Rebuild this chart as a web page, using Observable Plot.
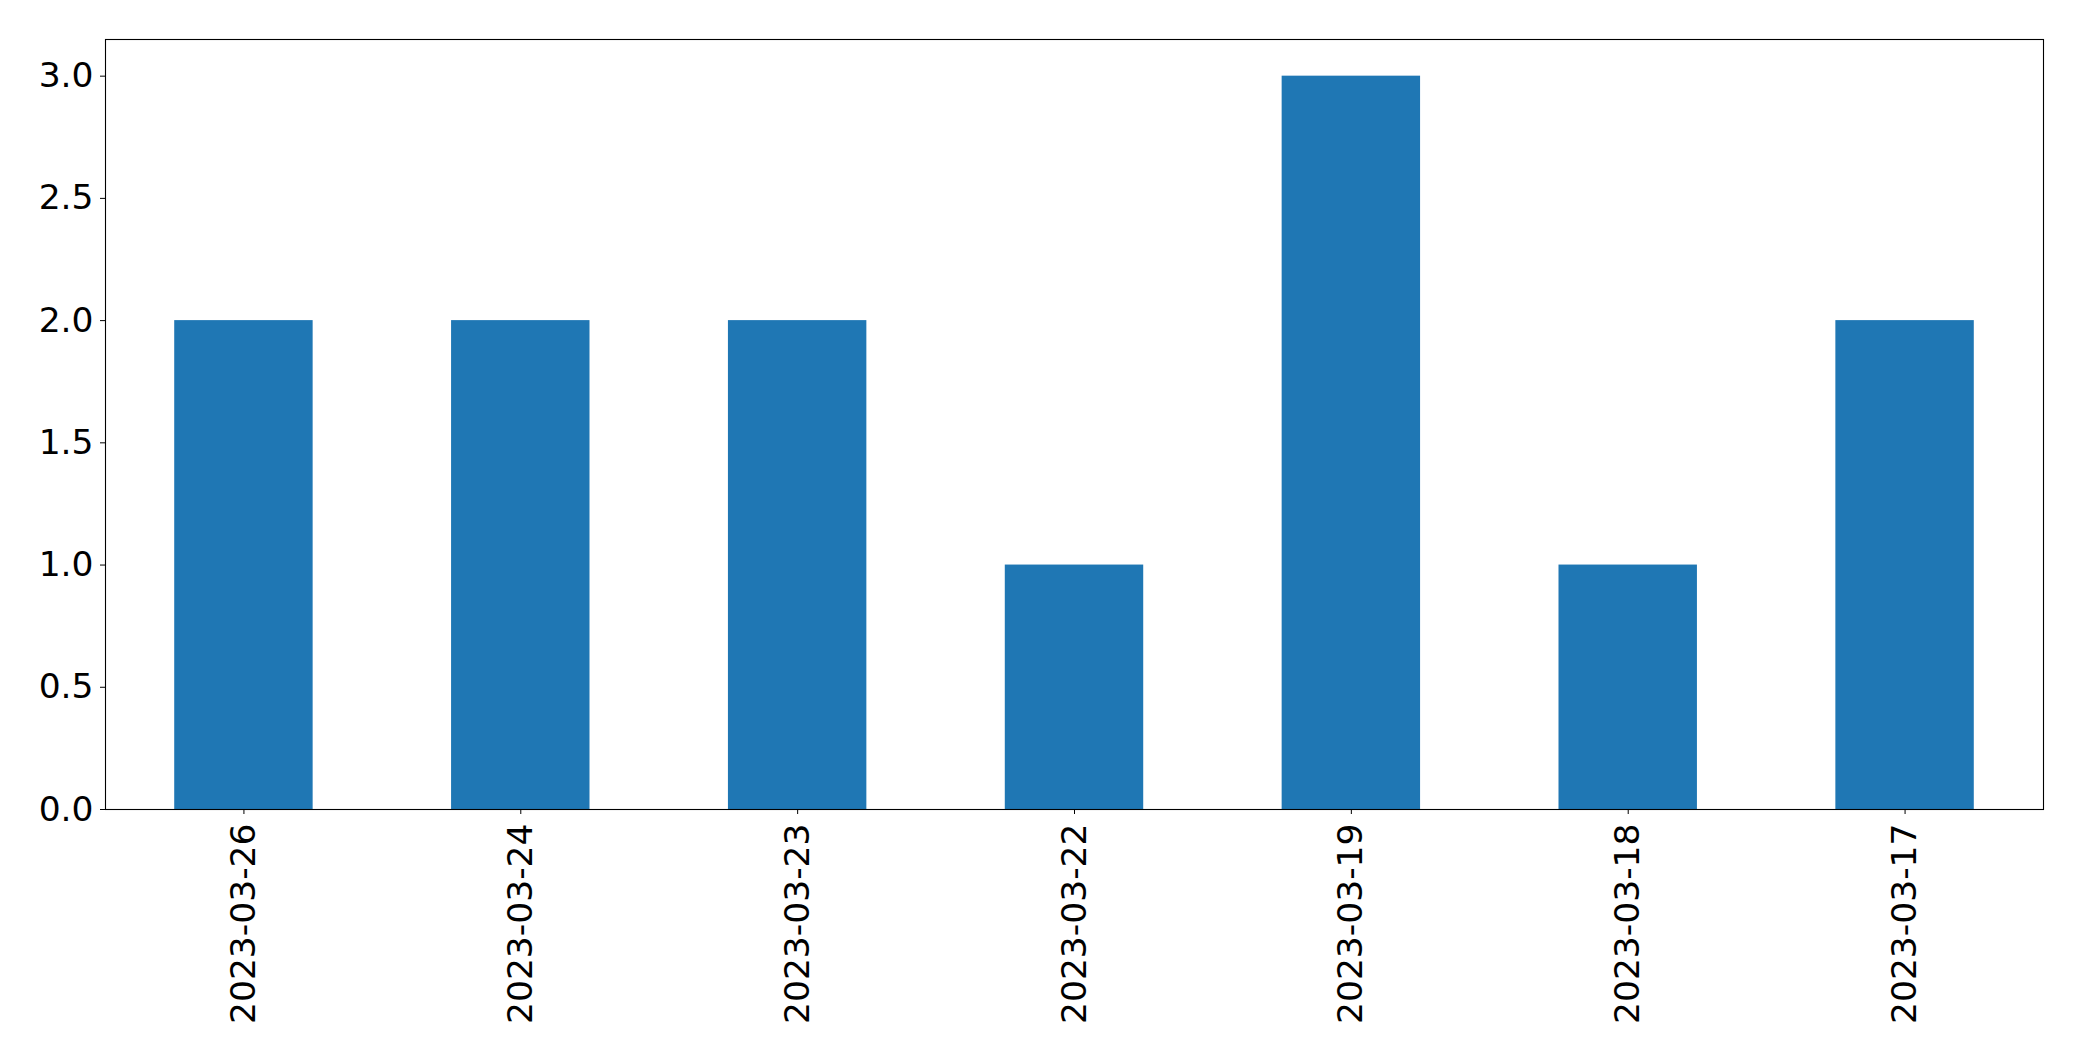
<!DOCTYPE html>
<html>
<head>
<meta charset="utf-8">
<script src="https://cdn.jsdelivr.net/npm/d3@7"></script>
<script src="https://cdn.jsdelivr.net/npm/@observablehq/plot@0.6"></script>
<style>
  html, body { margin: 0; padding: 0; background: #fff; }
  #chart svg { display: block; }
</style>
</head>
<body>
<div id="chart"></div>
<script>
const dates = ["2023-03-26", "2023-03-24", "2023-03-23", "2023-03-22", "2023-03-19", "2023-03-18", "2023-03-17"];
const counts = [2, 2, 2, 1, 3, 1, 2];
const yTicks = [0, 0.5, 1.0, 1.5, 2.0, 2.5, 3.0];

const data = dates.map((d, i) => ({date: d, count: counts[i]}));

const chart = Plot.plot({
  width: 2082,
  height: 1061,
  marginLeft: 105,
  marginRight: 39,
  marginTop: 39,
  marginBottom: 252,
  style: {fontFamily: "DejaVu Sans", fontSize: "34.5px", color: "#000", background: "#fff"},
  x: {domain: dates, paddingInner: 0.5, paddingOuter: 0.25, round: false},
  y: {domain: [0, 3.15]},
  marks: [
    Plot.barY(data, {x: "date", y: "count", fill: "#1f77b4"}),
    Plot.axisY({ticks: yTicks, tickFormat: d3.format(".1f"), tickSize: 5, tickPadding: 7, label: null, stroke: "#000", fill: "#000"}),
    Plot.axisX({tickRotate: -90, tickSize: 5, tickPadding: 9, label: null, stroke: "#000", fill: "#000"}),
    Plot.frame({stroke: "#000", strokeWidth: 1.1})
  ]
});
document.getElementById("chart").appendChild(chart);
</script>
</body>
</html>
